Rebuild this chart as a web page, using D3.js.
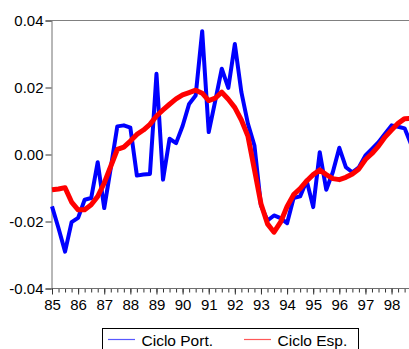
<!DOCTYPE html>
<html>
<head>
<meta charset="utf-8">
<script src="https://cdn.jsdelivr.net/npm/d3@7"></script>
<style>
  html, body { margin: 0; padding: 0; background: #fff; }
  svg { display: block; }
  text { font-family: "Liberation Sans", Arial, sans-serif; }
</style>
</head>
<body>
<script>
// ---- data (quarterly, 1985Q1 onwards) ----
const startYear = 85;
const yearLabels = ["85","86","87","88","89","90","91","92","93","94","95","96","97","98"];
const yTickValues = [0.04, 0.02, 0.00, -0.02, -0.04];
const yTickLabels = ["0.04", "0.02", "0.00", "-0.02", "-0.04"];
const seriesNames = ["Ciclo Port.", "Ciclo Esp."];
const seriesColors = ["#0000ff", "#ff0000"];

const cicloPort = [
  -0.0155, -0.0220, -0.0290, -0.0202, -0.0189, -0.0135, -0.0130, -0.0023,
  -0.0160, -0.0040,  0.0084,  0.0087,  0.0080, -0.0063, -0.0060, -0.0058,
   0.0241, -0.0075,  0.0047,  0.0034,  0.0085,  0.0151,  0.0176,  0.0368,
   0.0067,  0.0160,  0.0256,  0.0199,  0.0330,  0.0186,  0.0092,  0.0027,
  -0.0152, -0.0197, -0.0182, -0.0190, -0.0205, -0.0130, -0.0125, -0.0078,
  -0.0157,  0.0007, -0.0105, -0.0053,  0.0020, -0.0038, -0.0053, -0.0038,
  -0.0003,  0.0017,  0.0037,  0.0062,  0.0087,  0.0083,  0.0078,  0.0030
];
const cicloEsp = [
  -0.0105, -0.0103, -0.0099, -0.0142, -0.0165, -0.0165, -0.0150, -0.0125,
  -0.0085, -0.0035,  0.0015,  0.0022,  0.0040,  0.0060,  0.0073,  0.0090,
   0.0115,  0.0133,  0.0150,  0.0166,  0.0178,  0.0185,  0.0192,  0.0183,
   0.0161,  0.0168,  0.0186,  0.0165,  0.0140,  0.0103,  0.0055, -0.0045,
  -0.0147, -0.0207, -0.0232, -0.0202, -0.0155, -0.0120, -0.0102, -0.0079,
  -0.0060, -0.0046, -0.0060, -0.0072, -0.0075, -0.0068, -0.0058, -0.0043,
  -0.0015,  0.0003,  0.0025,  0.0052,  0.0073,  0.0093,  0.0107,  0.0108
];

// ---- layout ----
const W = 409, H = 349;
const plotLeft = 51.5, plotTop = 20.5, plotBottom = 288.5;
const x0 = 52, yearW = 26.12;

const svg = d3.select("body").append("svg").attr("width", W).attr("height", H);

const x = d3.scaleLinear().domain([startYear, startYear + 14]).range([x0, x0 + 14 * yearW]);
const y = d3.scaleLinear().domain([-0.04, 0.04]).range([plotBottom, plotTop]);

// frame top border
svg.append("line").attr("x1", plotLeft).attr("x2", W).attr("y1", plotTop).attr("y2", plotTop)
  .attr("stroke", "#808080").attr("stroke-width", 1);

// y axis
const yAxis = d3.axisLeft(y).tickValues(yTickValues)
  .tickFormat((d, i) => yTickLabels[i]).tickSize(6).tickPadding(2);
const gy = svg.append("g").attr("transform", `translate(${plotLeft},0)`).call(yAxis);
gy.select(".domain").attr("stroke", "#707070");
gy.selectAll(".tick line").attr("stroke", "#333");
gy.selectAll("text").attr("font-size", 15).attr("fill", "#000")
  .attr("font-family", '"Liberation Sans", Arial, sans-serif');

// x axis: minor quarterly ticks + major yearly ticks with labels
const quarterTicks = d3.range(0, 14 * 4 + 1).map(i => startYear + i / 4);
const xMinor = d3.axisBottom(x).tickValues(quarterTicks).tickSize(4).tickFormat("");
const gxm = svg.append("g").attr("transform", `translate(0,${plotBottom})`).call(xMinor);
gxm.select(".domain").remove();
gxm.selectAll(".tick line").attr("stroke", "#333");

const xAxis = d3.axisBottom(x).tickValues(yearLabels.map((d, i) => startYear + i))
  .tickFormat((d, i) => yearLabels[i]).tickSize(6).tickPadding(5);
const gx = svg.append("g").attr("transform", `translate(0,${plotBottom})`).call(xAxis);
gx.select(".domain").attr("d", `M${plotLeft},0H${W + 10}`).attr("stroke", "#707070");
gx.selectAll(".tick line").attr("stroke", "#333");
gx.selectAll("text").attr("font-size", 15).attr("fill", "#000")
  .attr("font-family", '"Liberation Sans", Arial, sans-serif');

// series
const line = d3.line().x((d, i) => x(startYear + i / 4)).y(d => y(d));
svg.append("path").datum(cicloPort).attr("d", line)
  .attr("fill", "none").attr("stroke", seriesColors[0]).attr("stroke-width", 4)
  .attr("stroke-linejoin", "round");
svg.append("path").datum(cicloEsp).attr("d", line)
  .attr("fill", "none").attr("stroke", seriesColors[1]).attr("stroke-width", 5)
  .attr("stroke-linejoin", "round");

// legend
const lg = svg.append("g");
lg.append("rect").attr("x", 102.5).attr("y", 328.5).attr("width", 256).attr("height", 30)
  .attr("fill", "#fff").attr("stroke", "#000").attr("stroke-width", 1);
const legendX = [108, 244];
seriesNames.forEach((name, i) => {
  lg.append("line").attr("x1", legendX[i]).attr("x2", legendX[i] + 27)
    .attr("y1", 339.5).attr("y2", 339.5)
    .attr("stroke", seriesColors[i]).attr("stroke-width", 1.2).attr("opacity", 0.65);
  lg.append("text").attr("x", legendX[i] + 33.5).attr("y", 345.5)
    .attr("font-size", 15.5).attr("fill", "#000").text(name);
});
</script>
</body>
</html>
